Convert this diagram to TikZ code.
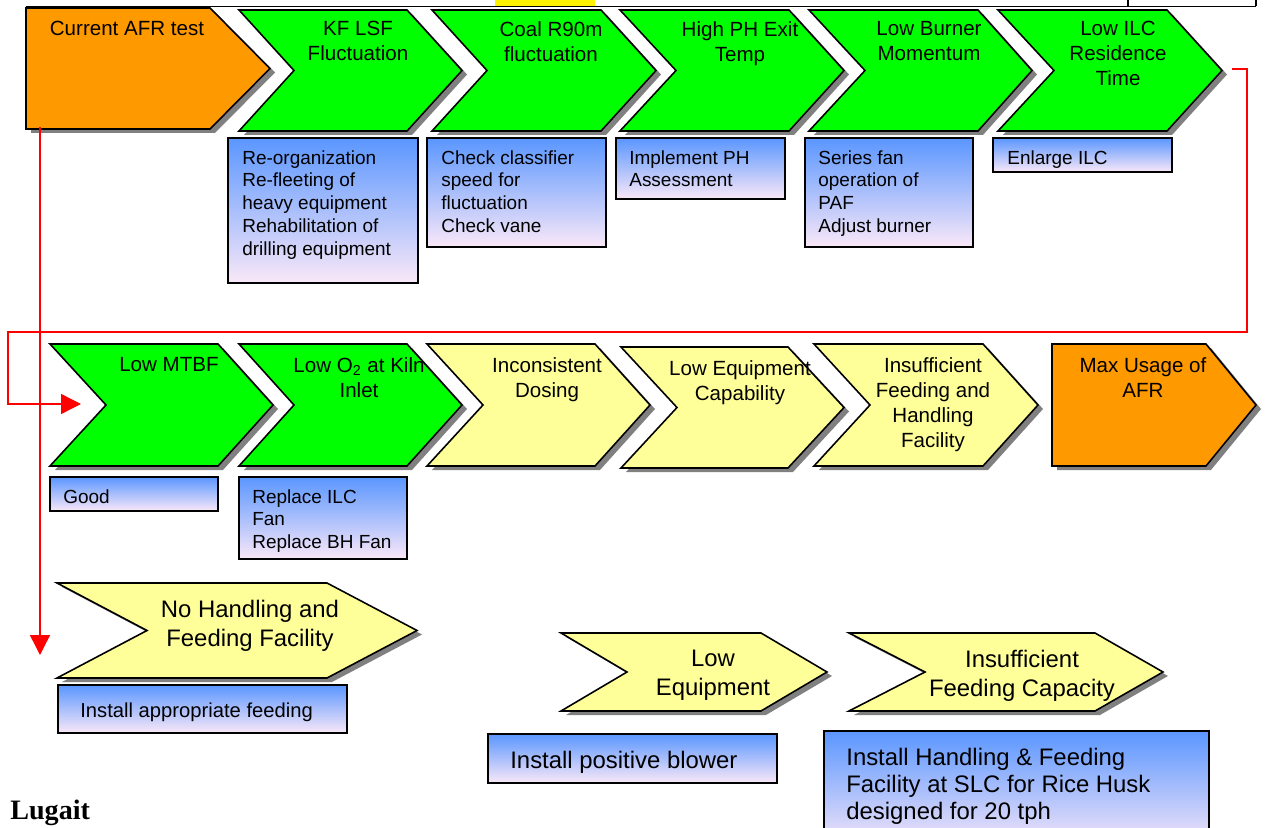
\documentclass[tikz,border=0pt]{standalone}
\usepackage{fontspec}
\setmainfont{Liberation Sans}
\newfontfamily\placefont{Liberation Serif}
\usetikzlibrary{arrows.meta}

\definecolor{afrorange}{HTML}{FF9900}
\definecolor{stepgreen}{HTML}{00FF00}
\definecolor{paleyellow}{HTML}{FFFF99}
\definecolor{fixtop}{RGB}{90,150,255}
\definecolor{fixmid}{RGB}{150,195,250}
\definecolor{fixbot}{RGB}{250,232,248}

% chevron: [fill](left,top)(body width:height:notch:tip)
\def\chevron[#1](#2,#3)(#4:#5:#6:#7){\fill[black!50, shift={(5,4)}] (#2,#3) -- ++(#4,0) -- ++(#7,#5/2) -- ++(-#7,#5/2) -- ++(-#4,0) -- ++(#6,-#5/2) -- cycle;
	\draw[line width=0.9pt, fill=#1] (#2,#3) -- ++(#4,0) -- ++(#7,#5/2) -- ++(-#7,#5/2) -- ++(-#4,0) -- ++(#6,-#5/2) -- cycle;}
% remedy box: (top left)(bottom right)
\def\fixbox(#1,#2)(#3,#4){\shade[top color=fixtop, middle color=fixmid, bottom color=fixbot] (#1,#2) rectangle (#3,#4);
	\draw[line width=0.9pt] (#1,#2) rectangle (#3,#4);}

\tikzset{
	stage/.style={font=\fontsize{11.7}{14.2}\selectfont, align=center, anchor=north, inner sep=0pt},
	bigstage/.style={stage, font=\fontsize{13.6}{16.2}\selectfont},
	fixtext/.style={font=\fontsize{10.8}{13}\selectfont, align=left, anchor=north west, inner sep=0pt},
	bigfix/.style={fixtext, font=\fontsize{13.6}{15.3}\selectfont},
	redline/.style={red, line width=0.8pt, -{Triangle[length=0.4cm, width=0.4cm]}}
}

\begin{document}
\begin{tikzpicture}[x=0.02cm, y=-0.02cm]
			\useasboundingbox (0,0) rectangle (1269,828);
			%%%%% START %%%%%
			
			\fill[yellow] (495,0) rectangle (595,6);
			\draw[line width=0.6pt] (26,6.5) -- (1256,6.5);
			\draw[line width=0.6pt] (1128,0) -- (1128,6.5);
			\draw[line width=0.6pt] (1256,0) -- (1256,6.5);
			
			\chevron[afrorange](26,8)(184:121:0:60)
			\chevron[stepgreen](239,10)(168:121:55:55)
			\chevron[stepgreen](432,10)(169:121:55:55)
			\chevron[stepgreen](620,10)(169:121:56:55)
			\chevron[stepgreen](809,10)(169:121:56:54)
			\chevron[stepgreen](998,10)(169:121:56:55)
			
			\node[stage] (afrnow) at (127,21) {Current AFR test};
			\node[stage] (kflsf) at (358,21) {KF LSF\\Fluctuation};
			\node[stage] (coal) at (551,21) {Coal R90m\\fluctuation};
			\node[stage] (phexit) at (740,21) {High PH Exit\\Temp};
			\node[stage] (burner) at (929,21) {Low Burner\\Momentum};
			\node[stage] (ilc) at (1118,21) {Low ILC\\Residence\\Time};
			
			\fixbox(228,138)(418,283)
			\fixbox(427,138)(606,247)
			\fixbox(616,138)(785,199)
			\fixbox(805,138)(973,247)
			\fixbox(993,138)(1172,172)
			
			\node[fixtext] (kffix) at (242,150) {Re-organization\\Re-fleeting of\\heavy equipment\\Rehabilitation of\\drilling equipment};
			\node[fixtext] (coalfix) at (441,150) {Check classifier\\speed for\\fluctuation\\Check vane};
			\node[fixtext] (phfix) at (629,150) {Implement PH\\Assessment};
			\node[fixtext] (burnerfix) at (818,150) {Series fan\\operation of\\PAF\\Adjust burner};
			\node[fixtext] (ilcfix) at (1007,150) {Enlarge ILC};
			
			\chevron[stepgreen](50,344)(168:122:56:55)
			\chevron[stepgreen](239,344)(168:122:55:55)
			\chevron[paleyellow](427,344)(168:122:56:55)
			\chevron[paleyellow](621,347)(167:121:56:56)
			\chevron[paleyellow](814,344)(169:122:56:55)
			\chevron[afrorange](1052,344)(154:122:0:50)
			
			\node[stage] (mtbf) at (169,357) {Low MTBF};
			\node[stage] (oxygen) at (359,357) {Low O\textsubscript{2} at Kiln\\Inlet};
			\node[stage] (dosing) at (547,357) {Inconsistent\\Dosing};
			\node[stage] (capab) at (740,360) {Low Equipment\\Capability};
			\node[stage] (feedhand) at (933,357) {Insufficient\\Feeding and\\Handling\\Facility};
			\node[stage] (afrmax) at (1143,357) {Max Usage of\\AFR};
			
			\fixbox(50,477)(218,511)
			\fixbox(239,477)(407,559)
			\node[fixtext] (mtbffix) at (63,489) {Good};
			\node[fixtext] (oxyfix) at (252,489) {Replace ILC\\Fan\\Replace BH Fan};
			
			\chevron[paleyellow](57,583)(270:95:90:90)
			\chevron[paleyellow](561,633)(200:78:66:66)
			\chevron[paleyellow](849,633)(246:78:76:68)
			
			\node[bigstage] (nofeed) at (250,600) {No Handling and\\Feeding Facility};
			\node[bigstage] (loweq) at (713,650) {Low\\Equipment};
			\node[bigstage] (feedcap) at (1022,650) {Insufficient\\Feeding Capacity};
			
			\fixbox(58,685)(347,733)
			\fixbox(488,734)(777,783)
			\fixbox(824,731)(1209,850)
			\node[fixtext, font=\fontsize{11.5}{14}\selectfont] (nofeedfix) at (80,703) {Install appropriate feeding};
			\node[bigfix] (blowerfix) at (510,751) {Install positive blower};
			\node[bigfix] (huskfix) at (846,748) {Install Handling \& Feeding\\Facility at SLC for Rice Husk\\designed for 20 tph};
			
			\coordinate (afrfoot) at (40,127);
			\coordinate (dropend) at (40,655);
			\draw[redline] (afrfoot) -- (dropend);
			\coordinate (ilcout) at (1232,69);
			\coordinate (mtbfin) at (81,404);
			\draw[redline] (ilcout) -| (1247,332) -| (8,404) -- (mtbfin);
			
			\node[font={\placefont\bfseries\fontsize{16}{19}\selectfont}, anchor=north west, inner sep=0pt] (site) at (10,800) {Lugait};
			
			%%%%% END %%%%%
		\end{tikzpicture}
\end{document}
